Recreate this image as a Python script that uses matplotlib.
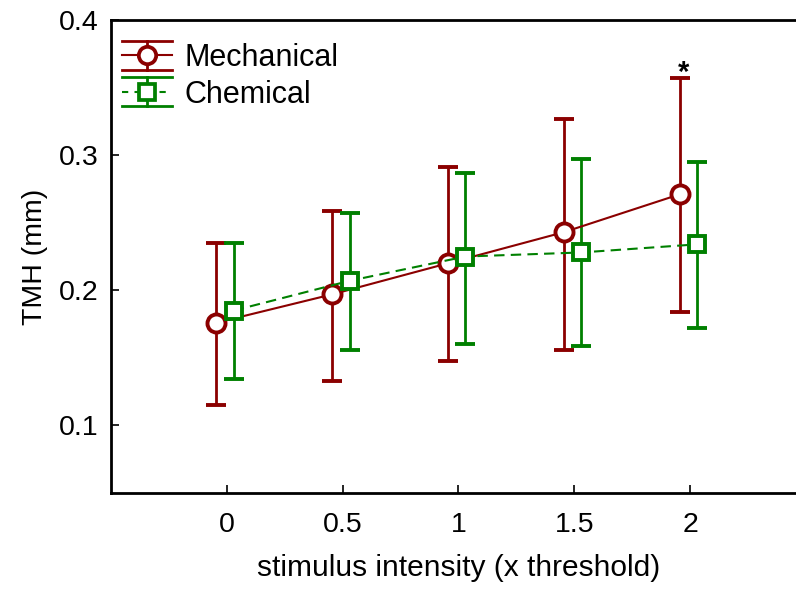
import numpy as np
import matplotlib
matplotlib.use("Agg")
import matplotlib.pyplot as plt
from matplotlib.lines import Line2D
from matplotlib.legend_handler import HandlerBase

plt.rcParams['font.family'] = ['Liberation Sans', 'DejaVu Sans']

# stimulus intensity levels (x threshold)
intensity = [0, 0.5, 1, 1.5, 2]
tick_labels = ['0', '0.5', '1', '1.5', '2']

# mean TMH (mm) and error bar limits
mech_mean = [0.176, 0.197, 0.220, 0.243, 0.271]
mech_upper = [0.235, 0.259, 0.291, 0.327, 0.357]
mech_lower = [0.115, 0.133, 0.148, 0.156, 0.184]

chem_mean = [0.185, 0.207, 0.225, 0.228, 0.234]
chem_upper = [0.235, 0.257, 0.287, 0.297, 0.295]
chem_lower = [0.134, 0.156, 0.160, 0.159, 0.172]

red = '#8b0000'
green = '#008000'


class WideCapHandler(HandlerBase):
    # legend key: caps as wide as the key, vertical bar, line and marker
    def __init__(self, color, ls, marker, ms):
        super().__init__()
        self.color, self.ls, self.marker, self.ms = color, ls, marker, ms

    def create_artists(self, legend, orig_handle, xd, yd, width, height, fontsize, trans):
        cy = yd + height / 2
        cx = xd + width / 2
        half = height * 0.68
        arts = [
            Line2D([xd, xd + width], [cy + half, cy + half], color=self.color, lw=2),
            Line2D([xd, xd + width], [cy - half, cy - half], color=self.color, lw=2),
            Line2D([cx, cx], [cy - half, cy + half], color=self.color, lw=2),
            Line2D([xd, xd + width], [cy, cy], color=self.color, lw=1.5, ls=self.ls),
            Line2D([cx], [cy], marker=self.marker, ms=self.ms, mfc='white',
                   mec=self.color, mew=2.7, ls='none'),
        ]
        for a in arts:
            a.set_transform(trans)
        return arts


fig = plt.figure(figsize=(7.96, 5.92), dpi=100)
ax = fig.add_axes([0.1394, 0.1672, 0.873, 0.799])

x = np.array(intensity)
mm = np.array(mech_mean)
cm = np.array(chem_mean)

h1 = ax.errorbar(x - 0.045, mm, yerr=[mm - np.array(mech_lower), np.array(mech_upper) - mm],
                 color=red, ls='-', lw=1.5, elinewidth=2, capsize=7, capthick=2,
                 marker='o', ms=13, mfc='white', mec=red, mew=2.8, label='Mechanical', zorder=3)
h2 = ax.errorbar(x + 0.03, cm, yerr=[cm - np.array(chem_lower), np.array(chem_upper) - cm],
                 color=green, ls=(0, (5, 3)), lw=1.5, elinewidth=2, capsize=7, capthick=2,
                 marker='s', ms=11.5, mfc='white', mec=green, mew=2.8, label='Chemical', zorder=3)

# significance marker
ax.text(1.97, 0.361, '*', ha='center', va='center', fontsize=21, fontweight='bold')

ax.set_xlim(-0.5, 2.5)
ax.set_ylim(0.05, 0.4)
ax.set_xticks(intensity)
ax.set_xticklabels(tick_labels)
ax.set_yticks([0.1, 0.2, 0.3, 0.4])
ax.set_yticklabels(['0.1', '0.2', '0.3', '0.4'])
ax.tick_params(direction='in', labelsize=20.5, length=6, width=1.2)
ax.tick_params(axis='x', pad=14)
ax.tick_params(axis='y', pad=9)
for s in ax.spines.values():
    s.set_linewidth(2)

ax.set_xlabel('stimulus intensity (x threshold)', fontsize=21.5, labelpad=11)
ax.set_ylabel('TMH (mm)', fontsize=20.5, labelpad=8)

ax.legend([h1, h2], ['Mechanical', 'Chemical'], loc='upper left', frameon=False,
          bbox_to_anchor=(0, 0.975), fontsize=22, handlelength=1.64,
          borderaxespad=0, borderpad=0.36, handletextpad=0.42, labelspacing=0.22,
          handler_map={h1: WideCapHandler(red, '-', 'o', 12.5),
                       h2: WideCapHandler(green, (0, (3, 3)), 's', 11.5)})

fig.savefig('out.png', dpi=100)
